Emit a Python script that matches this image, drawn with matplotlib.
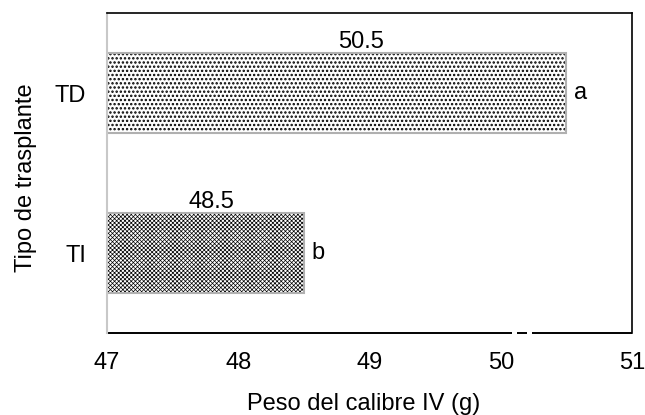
import matplotlib
matplotlib.use("Agg")
import matplotlib.pyplot as plt

categories = ["TI", "TD"]
values = [48.5, 50.5]
letters = ["b", "a"]
hatches = ["xxxxxxxx", "...."]
hatch_lws = [0.5, 1.15]
xticks = [47, 48, 49, 50, 51]

plt.rcParams['font.family'] = ['Liberation Sans', 'DejaVu Sans']

fig = plt.figure(figsize=(6.45, 4.15), dpi=100)
ax = fig.add_axes([107/645, 1-333/415, (632-107)/645, (333-13)/415])

base = 47
fs = 17
label_dx = [0.045, 0.185]
for i, (c, v, h, hl) in enumerate(zip(categories, values, hatches, hatch_lws)):
    plt.rcParams['hatch.linewidth'] = hl
    bars = ax.barh(i, v - base, left=base, height=0.5, color='white', edgecolor='black',
                   hatch=h, linewidth=0)
    for b in bars:
        if hasattr(b, 'set_hatch_linewidth'):
            b.set_hatch_linewidth(hl)
    ax.barh(i, v - base, left=base, height=0.5, color='none', edgecolor='#b0b0b0', linewidth=1.5)
    ax.text((base + v) / 2 + label_dx[i], i + 0.28, f"{v}", ha='center', va='baseline', fontsize=fs)
    ax.text(v + 0.06, i, letters[i], ha='left', va='center', fontsize=fs)

ax.set_xlim(47, 51)
ax.set_ylim(-0.5, 1.5)
ax.set_yticks(range(len(categories)))
ax.set_yticklabels(categories, fontsize=fs)
ax.set_xticks(xticks)
ax.set_xticklabels([str(t) for t in xticks], fontsize=fs)
ax.tick_params(axis='x', length=0, pad=14)
ax.tick_params(axis='y', length=0, pad=15)
ax.spines['left'].set_color('#c8c8c8')
ax.spines['left'].set_linewidth(1.5)
ax.spines['top'].set_linewidth(1.2)
ax.spines['right'].set_linewidth(1.2)
ax.spines['bottom'].set_visible(False)
ax.spines['top'].set_color('black')
# broken bottom axis line
for x0, x1 in [(47, 50.085), (50.125, 50.2), (50.24, 51)]:
    ax.plot([x0, x1], [-0.5, -0.5], color='black', lw=1.4, clip_on=False, solid_capstyle='butt')

ax.set_xlabel("Peso del calibre IV (g)", fontsize=fs)
ax.set_ylabel("Tipo de trasplante", fontsize=fs)
ax.xaxis.set_label_coords(0.488, -0.222, transform=ax.transAxes)
ax.xaxis.label.set_va('center')
ax.yaxis.set_label_coords(-0.155, 0.484, transform=ax.transAxes)
ax.yaxis.label.set_va('center')

fig.savefig("out.png", dpi=100)
